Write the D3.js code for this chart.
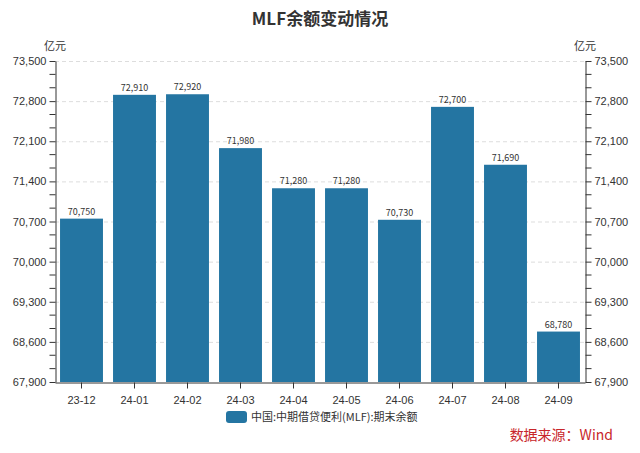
<!DOCTYPE html>
<html><head><meta charset="utf-8">
<script src="https://cdn.jsdelivr.net/npm/d3@7"></script>
<style>body{margin:0;background:#fff;}svg{display:block;font-family:"Noto Sans CJK SC","Noto Sans",sans-serif;}</style>
</head><body><svg id="c" width="640" height="453"></svg>
<script>
const categories = ["23-12","24-01","24-02","24-03","24-04","24-05","24-06","24-07","24-08","24-09"];
const values = [70750,72910,72920,71980,71280,71280,70730,72700,71690,68780];
const yTicks = [67900,68600,69300,70000,70700,71400,72100,72800,73500];
const seriesName = "中国:中期借贷便利(MLF):期末余额";
const title = "MLF余额变动情况";
const unit = "亿元";
const source = "数据来源：Wind";

const svg = d3.select("#c");
const m = {l:55, r:585, t:61, b:382};
const x = d3.scaleBand().domain(categories).range([m.l, m.r]).paddingInner(0.19).paddingOuter(0.095);
const y = d3.scaleLinear().domain([67900,73500]).range([m.b, m.t]);
const color = "#2475a2";
const fmt = d3.format(",");

// grid
svg.append("g").selectAll("line").data(yTicks.slice(1)).join("line")
  .attr("x1", m.l).attr("x2", m.r).attr("y1", d=>y(d)+0.5).attr("y2", d=>y(d)+0.5)
  .attr("stroke","#ddd").attr("stroke-dasharray","4,3");

// bars
svg.append("g").selectAll("rect").data(values).join("rect")
  .attr("x",(d,i)=>x(categories[i])).attr("width",x.bandwidth())
  .attr("y",d=>y(d)).attr("height",d=>y(67900)-y(d)).attr("fill",color);

svg.append("g").selectAll("text").data(values).join("text")
  .attr("x",(d,i)=>x(categories[i])+x.bandwidth()/2).attr("y",d=>y(d)-4)
  .attr("text-anchor","middle").attr("font-size",9).attr("fill","#333").text(d=>fmt(d));

// minor ticks
const minor = [];
for (let i=0;i<yTicks.length-1;i++){ const s=(yTicks[i+1]-yTicks[i])/3; minor.push(yTicks[i]+s, yTicks[i]+2*s); }

function styleAxis(g){
  g.select(".domain").attr("stroke","#333");
  g.selectAll(".tick line").attr("stroke","#333");
  g.selectAll(".tick text").attr("fill","#333").attr("font-size",11);
}
const yl = svg.append("g").attr("transform",`translate(${m.l+0.5},0)`)
  .call(d3.axisLeft(y).tickValues(yTicks).tickFormat(fmt).tickSize(6).tickSizeOuter(0));
styleAxis(yl);
yl.append("g").selectAll("line").data(minor).join("line").attr("x1",-6).attr("x2",0)
  .attr("y1",d=>y(d)).attr("y2",d=>y(d)).attr("stroke","#333");
const yr = svg.append("g").attr("transform",`translate(${m.r+0.5},0)`)
  .call(d3.axisRight(y).tickValues(yTicks).tickFormat(fmt).tickSize(6).tickSizeOuter(0));
styleAxis(yr);
yr.append("g").selectAll("line").data(minor).join("line").attr("x1",0).attr("x2",6)
  .attr("y1",d=>y(d)).attr("y2",d=>y(d)).attr("stroke","#333");

const xa = svg.append("g").attr("transform",`translate(0,${m.b+0.5})`)
  .call(d3.axisBottom(x).tickSize(6).tickSizeOuter(0));
styleAxis(xa);
xa.selectAll(".tick text").attr("dy","1.1em");

// units
svg.append("text").attr("x",55).attr("y",50).attr("text-anchor","middle").attr("font-size",11).attr("fill","#333").text(unit);
svg.append("text").attr("x",585).attr("y",50).attr("text-anchor","middle").attr("font-size",11).attr("fill","#333").text(unit);

// title
svg.append("text").attr("x",320).attr("y",25).attr("text-anchor","middle").attr("font-size",17).attr("font-weight","bold").attr("fill","#333").text(title);

// legend
svg.append("rect").attr("x",226).attr("y",411).attr("width",21).attr("height",12).attr("rx",3).attr("fill",color);
svg.append("text").attr("x",251).attr("y",421).attr("font-size",11).attr("fill","#333").text(seriesName);

// source
svg.append("text").attr("x",613).attr("y",440).attr("text-anchor","end").attr("font-size",14).attr("fill","#c8262b").text(source);
</script></body></html>
